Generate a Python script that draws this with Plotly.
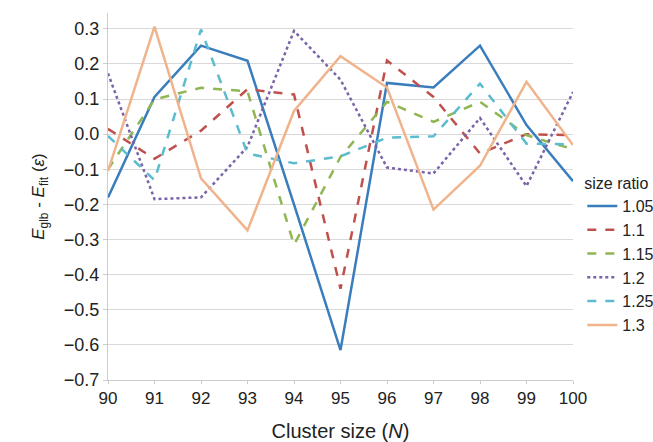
import plotly.graph_objects as go

N = [90, 91, 92, 93, 94, 95, 96, 97, 98, 99, 100]
ratios = ["1.05", "1.1", "1.15", "1.2", "1.25", "1.3"]
s105 = [-0.18, 0.106, 0.252, 0.209, -0.2, -0.615, 0.146, 0.133, 0.252, 0.026, -0.134]
s110 = [0.015, -0.07, 0.01, 0.128, 0.113, -0.44, 0.21, 0.106, -0.055, 0.0, -0.003]
s115 = [-0.1, 0.099, 0.132, 0.122, -0.315, -0.065, 0.092, 0.035, 0.092, -0.003, -0.043]
s120 = [0.173, -0.185, -0.18, -0.036, 0.294, 0.155, -0.095, -0.112, 0.046, -0.148, 0.12]
s125 = [-0.005, -0.131, 0.298, -0.055, -0.083, -0.063, -0.01, -0.006, 0.144, -0.027, -0.029]
s130 = [-0.105, 0.306, -0.126, -0.274, 0.066, 0.222, 0.133, -0.215, -0.09, 0.149, -0.031]
y_ticks = [0.3, 0.2, 0.1, 0.0, -0.1, -0.2, -0.3, -0.4, -0.5, -0.6, -0.7]

series = [s105, s110, s115, s120, s125, s130]
colors = ["#3a7dbd", "#c0504d", "#8fb653", "#7a63a6", "#5bbcd0", "#f0b48c"]
dashes = ["solid", "dash", "dash", "dot", "dash", "solid"]

fig = go.Figure()
for name, ys, c, d in zip(ratios, series, colors, dashes):
    fig.add_trace(go.Scatter(x=N, y=ys, mode="lines", name=name,
                             line=dict(color=c, width=2.5, dash=d)))

font = "Liberation Sans, Arial, sans-serif"
fig.update_layout(
    width=653, height=442,
    margin=dict(l=108, r=80, t=13, b=62, autoexpand=False),
    paper_bgcolor="white", plot_bgcolor="white",
    font=dict(family=font, size=17, color="#222"),
    showlegend=True,
    legend=dict(x=1.02, y=0.34, xanchor="left", yanchor="middle",
                title=dict(text="size ratio", font=dict(size=16)),
                font=dict(size=16), tracegroupgap=0, itemwidth=30,
                bgcolor="rgba(0,0,0,0)"),
    xaxis=dict(range=[90, 100], tickvals=N, showgrid=False,
               showline=True, linecolor="#cccccc", linewidth=1,
               ticks="outside", ticklen=3, tickcolor="#cccccc",
               tickfont=dict(size=17),
               title=dict(text="Cluster size (<i>N</i>)", font=dict(size=20), standoff=18),
               zeroline=False),
    yaxis=dict(range=[-0.7, 0.345], tickvals=y_ticks,
               tickformat=".1f", showgrid=True, gridcolor="#d9d9d9", gridwidth=1,
               showline=True, linecolor="#cccccc", linewidth=1,
               ticks="outside", ticklen=4, tickcolor="#cccccc",
               tickfont=dict(size=18),
               title=dict(text="<i>E</i><sub>glb</sub> - <i>E</i><sub>fit</sub> (<i>ε</i>)", font=dict(size=17), standoff=14),
               zeroline=False),
)

fig.write_html("out.html")
